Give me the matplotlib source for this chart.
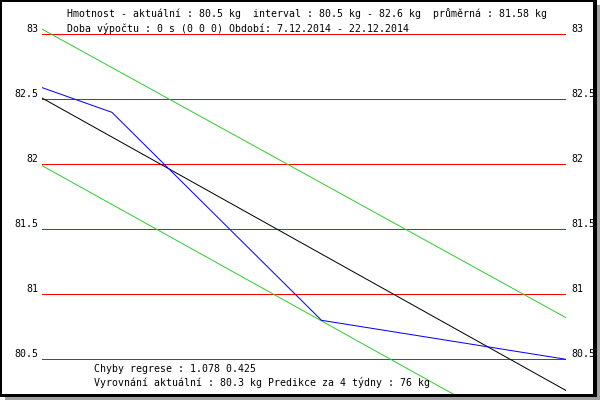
import matplotlib
matplotlib.use("Agg")
import matplotlib.pyplot as plt
from matplotlib.patches import Rectangle

# data
days = [0, 2, 8, 15]
weight = [82.59, 82.40, 80.80, 80.50]
trend_days = [0, 15]
trend = [82.51, 80.26]
upper = [83.04, 80.82]
lower = [81.99, 79.75]
grid_vals = [83, 82.5, 82, 81.5, 81, 80.5]
grid_labels = ["83", "82.5", "82", "81.5", "81", "80.5"]

header1 = "Hmotnost - aktuální : 80.5 kg  interval : 80.5 kg - 82.6 kg  průměrná : 81.58 kg"
header2 = "Doba výpočtu : 0 s (0 0 0) Období: 7.12.2014 - 22.12.2014"
footer1 = "Chyby regrese : 1.078 0.425"
footer2 = "Vyrovnání aktuální : 80.3 kg Predikce za 4 týdny : 76 kg"

W, H = 600, 400
PX_PER_KG = 130.0
Y83 = 34.3


def fx(px):
    return px / W


def fy(py):
    return 1 - py / H


fig = plt.figure(figsize=(6, 4), dpi=100)
fig.patch.set_facecolor("white")

# frame with shadow
fig.patches.append(Rectangle((fx(5), fy(400)), fx(595), 395 / H, transform=fig.transFigure,
                             facecolor="#a0a0a0", edgecolor="none", zorder=-3))
fig.patches.append(Rectangle((fx(0), fy(397)), fx(597), 397 / H, transform=fig.transFigure,
                             facecolor="black", edgecolor="none", zorder=-2))
fig.patches.append(Rectangle((fx(2), fy(394)), fx(591), 392 / H, transform=fig.transFigure,
                             facecolor="white", edgecolor="none", zorder=-1))

# axes covering the plot strip, x 42..566 px
top_px, bot_px = 2, 394
ax = fig.add_axes([fx(42), fy(bot_px), fx(524), (bot_px - top_px) / H])
ax.set_zorder(1)
ax.set_xlim(0, 15)
ax.set_ylim(83 - (bot_px - Y83) / PX_PER_KG, 83 + (Y83 - top_px) / PX_PER_KG)
ax.axis("off")
ax.patch.set_alpha(0)

lw = 0.6
for v, lab in zip(grid_vals, grid_labels):
    ax.plot([0, 15], [v, v], color="#ff0000", lw=lw, antialiased=False)
    ax.text(-0.09, v + 2.5 / PX_PER_KG, lab, ha="right", va="baseline",
            family="DejaVu Sans Mono", fontsize=7.1, clip_on=False)
    ax.text(15.16, v + 2.5 / PX_PER_KG, lab, ha="left", va="baseline",
            family="DejaVu Sans Mono", fontsize=7.1, clip_on=False)

# diagonal lines: thin, 1 px
dlw = 0.72
ax.plot(trend_days, upper, color="#33cc33", lw=dlw)
ax.plot(trend_days, lower, color="#33cc33", lw=dlw)
ax.plot(trend_days, trend, color="black", lw=dlw)
ax.plot(days, weight, color="#0000ff", lw=dlw)

font = dict(family="DejaVu Sans Mono", fontsize=7.1, va="baseline", ha="left")
fig.text(fx(67), fy(17), header1, **font)
fig.text(fx(67), fy(32.5), header2, **font)
fig.text(fx(94), fy(372.5), footer1, **font)
fig.text(fx(94), fy(385.5), footer2, **font)

fig.savefig("out.png", dpi=100)
